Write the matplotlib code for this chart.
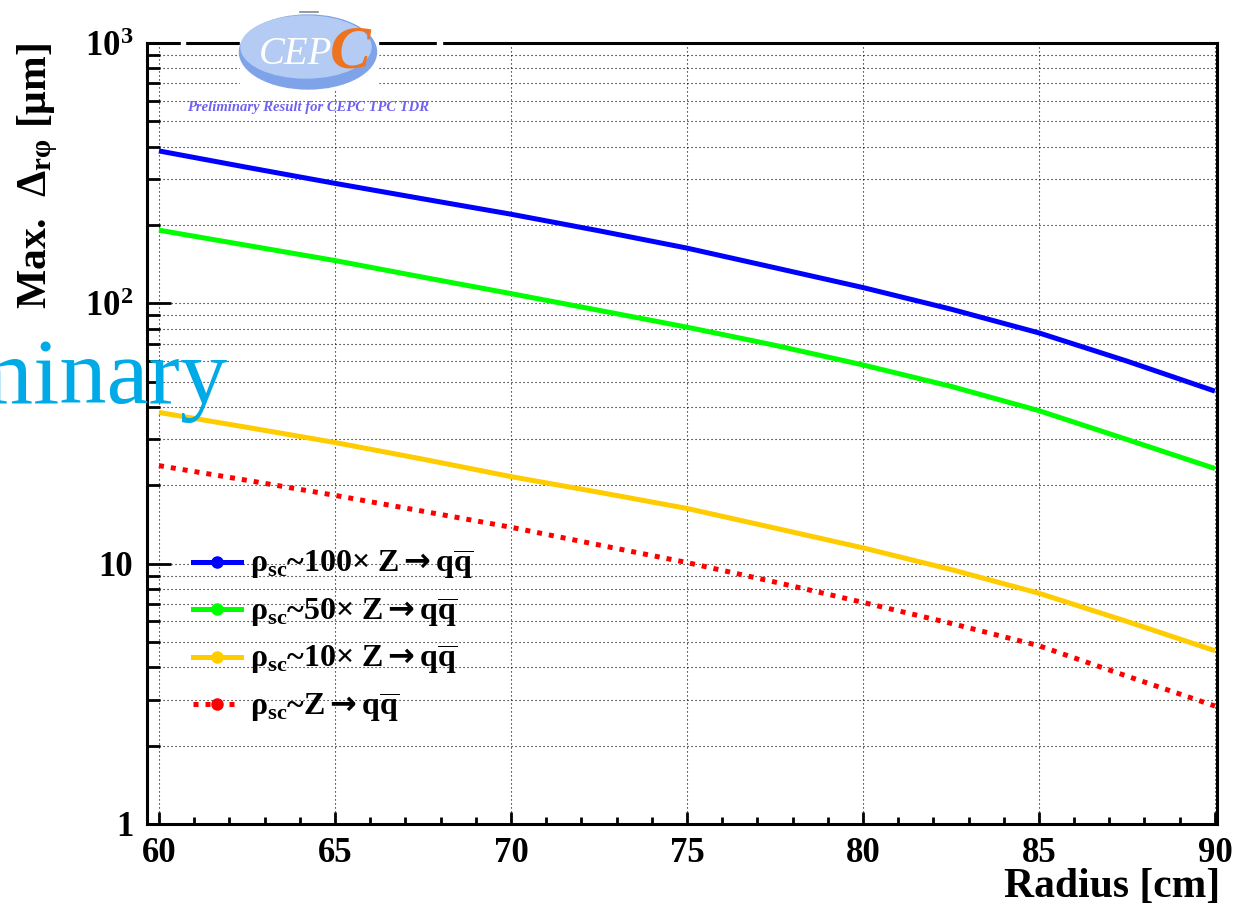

# Imports
import numpy as np
import matplotlib
matplotlib.use('Agg')
import matplotlib.pyplot as plt
from matplotlib.lines import Line2D
from matplotlib.patches import Ellipse, Rectangle
from matplotlib.ticker import LogLocator, NullFormatter, FixedLocator, FixedFormatter, MultipleLocator

# Data
radius = [60, 62.5, 65, 67.5, 70, 72.5, 75, 77.5, 80, 82.5, 85, 87.5, 90]
rho_100 = [385, 333, 289, 252, 220, 190, 163, 137, 115, 95, 77, 60, 46]
rho_50 = [191, 167, 146, 126, 109, 94, 81, 69, 58, 48, 38.7, 30, 23.2]
rho_10 = [38.1, 33.4, 29.2, 25.2, 21.6, 18.8, 16.3, 13.7, 11.5, 9.5, 7.7, 6.0, 4.63]
rho_1 = [23.8, 20.9, 18.3, 15.9, 13.8, 11.8, 10.1, 8.5, 7.1, 5.9, 4.84, 3.7, 2.84]

series = [rho_100, rho_50, rho_10, rho_1]
arrow = r'$\mathsf{\rightarrow}$'
labels = [r'$\mathrm{ρ}_{\mathrm{sc}}$~100× Z' + arrow + r'q$\overline{\mathrm{q}}$',
          r'$\mathrm{ρ}_{\mathrm{sc}}$~50× Z' + arrow + r'q$\overline{\mathrm{q}}$',
          r'$\mathrm{ρ}_{\mathrm{sc}}$~10× Z' + arrow + r'q$\overline{\mathrm{q}}$',
          r'$\mathrm{ρ}_{\mathrm{sc}}$~Z' + arrow + r'q$\overline{\mathrm{q}}$']
colors = ['#0000ff', '#00ff00', '#ffcc00', '#ff0000']
styles = ['-', '-', '-', (0, (1.0, 1.4))]

y_ticks = [1, 10, 100, 1000]
y_tick_labels = ['1', '10', r'10$^{\mathrm{2}}$', r'10$^{\mathrm{3}}$']
x_ticks = [60, 65, 70, 75, 80, 85, 90]

# Fonts: ROOT style bold Times
plt.rcParams['font.family'] = ['Liberation Serif', 'DejaVu Serif']
plt.rcParams['font.weight'] = 'bold'
plt.rcParams['axes.labelweight'] = 'bold'
plt.rcParams['mathtext.fontset'] = 'custom'
plt.rcParams['mathtext.rm'] = 'Liberation Serif:bold'
plt.rcParams['mathtext.it'] = 'Liberation Serif:bold:italic'
plt.rcParams['mathtext.bf'] = 'Liberation Serif:bold'
plt.rcParams['mathtext.sf'] = 'DejaVu Sans'

# Create the figure and the axes
fig = plt.figure(figsize=(12.43, 9.15), dpi=100)
W, H = 1243, 915
ax = fig.add_axes([147 / W, 1 - 824 / H, (1217 - 147) / W, (824 - 43) / H])

# Draw the curves
for values, color, style in zip(series, colors, styles):
    ax.plot(radius, values, color=color, lw=3.6, ls=style,
            dash_capstyle='butt', solid_capstyle='butt', zorder=3)

# Axis ranges and scale
ax.set_yscale('log')
ax.set_ylim(1, 1000)
ax.set_xlim(59.66, 90.06)

# Ticks
ax.xaxis.set_major_locator(FixedLocator(x_ticks))
ax.xaxis.set_minor_locator(MultipleLocator(1))
ax.yaxis.set_major_locator(FixedLocator(y_ticks))
ax.yaxis.set_major_formatter(FixedFormatter(y_tick_labels))
ax.yaxis.set_minor_locator(LogLocator(base=10, subs=np.arange(2, 10)))
ax.yaxis.set_minor_formatter(NullFormatter())
ax.tick_params(axis='both', which='both', direction='in', top=False, right=False,
               width=2, labelsize=25)
ax.tick_params(axis='y', which='major', length=17, pad=10)
ax.tick_params(axis='y', which='minor', length=9)
ax.tick_params(axis='x', which='major', length=9, pad=9)
ax.tick_params(axis='x', which='minor', length=5)

# Frame
for spine in ax.spines.values():
    spine.set_linewidth(2.2)

# Dotted grid
grid_style = dict(color='black', lw=0.8, ls=(0, (1, 2.6)))
ax.grid(True, which='both', axis='y', **grid_style)
ax.grid(True, which='major', axis='x', **grid_style)
ax.set_axisbelow(True)

# Axis titles
ax.set_xlabel('Radius [cm]', fontsize=30, fontweight='bold', loc='right')
ax.xaxis.set_label_coords(1.003, -0.056)
ax.set_ylabel(r'Max.  $\mathrm{Δ}_{\mathrm{rφ}}$ [μm]', fontsize=30,
              fontweight='bold', loc='top')
ax.yaxis.set_label_coords(-0.081, 1.0)

# Legend
handles = [Line2D([], [], color=c, lw=3.6, ls=s, marker='o', ms=8,
                  dash_capstyle='butt') for c, s in zip(colors, styles)]
ax.legend(handles, labels, loc='upper left', bbox_to_anchor=(193 / W, 1 - 548 / H),
          bbox_transform=fig.transFigure, frameon=False, fontsize=23,
          handlelength=1.5, handletextpad=0.3, labelspacing=0.42, borderpad=0,
          borderaxespad=0)

# Big "Preliminary" watermark, cut off at the left edge
fig.text(228 / W, 1 - 403 / H, 'Preliminary', color='#00aae6', fontsize=68,
         fontweight='normal', ha='right', va='baseline', zorder=10)

# CEPC logo on top of the frame
logo = fig.add_axes([178 / W, 1 - 118 / H, 270 / W, 113 / H])
logo.set_xlim(178, 448)
logo.set_ylim(118, 5)
logo.axis('off')
logo.add_patch(Rectangle((181, 38), 4, 10, color='white'))
logo.add_patch(Rectangle((437, 38), 5, 10, color='white'))
logo.add_patch(Rectangle((240, 18), 138, 70, color='white'))
logo.add_patch(Ellipse((308, 52), 137, 74, color='#7fa3e8'))
logo.add_patch(Ellipse((306, 47), 130, 62, color='#b4cbf3'))
logo.plot([300, 318], [12, 12], color='#888888', lw=1.2)
logo.text(296, 54, 'CEP', fontsize=28, style='italic', fontweight='normal',
          color='white', ha='center', va='center')
logo.text(350, 52, 'C', fontsize=44, style='italic', fontweight='bold',
          color='#ee7320', ha='center', va='center')
logo.text(308, 107, 'Preliminary Result for CEPC TPC TDR', fontsize=10.5,
          style='italic', fontweight='bold', color='#6f62ee', ha='center', va='center')

# Save the figure
fig.savefig('out.png', dpi=100)
